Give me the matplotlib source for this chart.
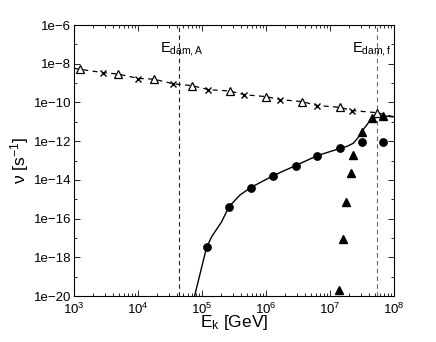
import numpy as np
import matplotlib
matplotlib.use("Agg")
import matplotlib.pyplot as plt
from matplotlib.ticker import LogLocator, FixedLocator, FuncFormatter, NullFormatter

plt.rcParams['font.family'] = ['Liberation Sans', 'DejaVu Sans']
plt.rcParams['mathtext.fontset'] = 'custom'
plt.rcParams['mathtext.rm'] = 'Liberation Sans'
plt.rcParams['mathtext.it'] = 'Liberation Sans:italic'
plt.rcParams['mathtext.default'] = 'rm'

# ---- data ----
open_tri_E = [1.26e3, 4.8e3, 1.78e4, 6.9e4, 2.7e5, 1.0e6, 3.7e6, 1.41e7, 5.4e7]
open_tri_nu = [5.1e-9, 2.95e-9, 1.58e-9, 7.4e-10, 3.9e-10, 2.0e-10, 1.1e-10, 5.6e-11, 2.95e-11]

cross_E = [2.8e3, 1.0e4, 3.55e4, 1.26e5, 4.6e5, 1.66e6, 6.2e6, 2.24e7]
cross_nu = [3.2e-9, 1.62e-9, 8.7e-10, 4.4e-10, 2.4e-10, 1.35e-10, 6.6e-11, 3.6e-11]

dash_E = [1.0e3, 1.26e3, 2.8e3, 4.8e3, 1.0e4, 1.78e4, 3.55e4, 6.9e4, 1.26e5, 2.7e5,
          4.6e5, 1.0e6, 1.66e6, 3.7e6, 6.2e6, 1.41e7, 2.24e7, 5.4e7, 1.0e8]
dash_nu = [5.8e-9, 5.1e-9, 3.5e-9, 2.95e-9, 1.75e-9, 1.58e-9, 9.2e-10, 7.4e-10, 4.6e-10, 3.9e-10,
           2.5e-10, 2.0e-10, 1.4e-10, 1.1e-10, 7.0e-11, 5.6e-11, 3.8e-11, 2.95e-11, 1.8e-11]

circle_E = [1.18e5, 2.64e5, 5.77e5, 1.30e6, 2.91e6, 6.34e6, 1.43e7, 3.13e7, 6.8e7]
circle_nu = [3.3e-18, 4.1e-16, 4.0e-15, 1.66e-14, 5.5e-14, 1.78e-13, 4.2e-13, 9.3e-13, 9.3e-13]

filled_tri_E = [1.40e7, 1.58e7, 1.80e7, 2.10e7, 2.31e7, 3.13e7, 4.49e7, 6.8e7]
filled_tri_nu = [2.1e-20, 9.1e-18, 7.6e-16, 2.2e-14, 1.95e-13, 3.1e-12, 1.5e-11, 2.0e-11]

solid_E = [7.4e4, 1.18e5, 1.42e5, 2.03e5, 2.64e5, 3.93e5, 5.77e5, 1.30e6, 2.91e6,
           6.34e6, 1.43e7, 1.9e7, 2.31e7, 2.7e7, 3.13e7, 4.49e7, 6.8e7, 1.0e8]
solid_nu = [6.3e-21, 3.3e-18, 1.17e-17, 6.9e-17, 4.1e-16, 1.66e-15, 4.0e-15, 1.66e-14, 5.5e-14,
            1.78e-13, 4.2e-13, 5.6e-13, 7.8e-13, 1.4e-12, 3.1e-12, 1.5e-11, 2.0e-11, 1.8e-11]

E_dam_A = 4.4e4
E_dam_f = 5.4e7

xticks = [1e3, 1e4, 1e5, 1e6, 1e7, 1e8]
yticks_labeled = [1e-20, 1e-18, 1e-16, 1e-14, 1e-12, 1e-10, 1e-8, 1e-6]
ytick_labels = ['1e\u221220', '1e\u221218', '1e\u221216', '1e\u221214',
                '1e\u221212', '1e\u221210', '1e\u22128', '1e\u22126']

# ---- figure ----
fig = plt.figure(figsize=(4.36, 3.42), dpi=100)
ax = fig.add_axes([74/436, 46/342, 320/436, 271/342])
ax.set_xscale('log')
ax.set_yscale('log')
ax.set_xlim(1e3, 1e8)
ax.set_ylim(1e-20, 1e-6)

ax.axvline(E_dam_A, color='#222222', lw=0.8, ls=(0, (4, 3)), zorder=1)
ax.axvline(E_dam_f, color='#666666', lw=0.8, ls=(0, (4, 3)), zorder=1)

ax.plot(dash_E, dash_nu, color='black', lw=0.9, ls=(0, (4, 3.5)), zorder=2)
ax.plot(solid_E, solid_nu, color='black', lw=1.0, zorder=2)

ax.plot(open_tri_E, open_tri_nu, ls='none', marker='^', ms=5.5, mfc='white',
        mec='black', mew=0.9, zorder=3)
ax.plot(cross_E, cross_nu, ls='none', marker='x', ms=4.0, mec='black', mew=1.0, zorder=3)
ax.plot(circle_E, circle_nu, ls='none', marker='o', ms=5.3, mfc='black', mec='black', zorder=3)
ax.plot(filled_tri_E, filled_tri_nu, ls='none', marker='^', ms=5.3, mfc='black',
        mec='black', zorder=3)

ax.text(2.2e4, 10**-7.41, r'E$_{\mathrm{dam,A}}$', fontsize=10.5, ha='left', va='baseline')
ax.text(2.18e7, 10**-7.41, r'E$_{\mathrm{dam,f}}$', fontsize=10.5, ha='left', va='baseline')

# ticks
ax.xaxis.set_major_locator(FixedLocator(xticks))
ax.xaxis.set_major_formatter(FuncFormatter(lambda v, p: r'$10^{%d}$' % round(np.log10(v))))
ax.xaxis.set_minor_locator(LogLocator(base=10, subs=np.arange(2, 10), numticks=20))
ax.xaxis.set_minor_formatter(NullFormatter())

ax.yaxis.set_major_locator(FixedLocator(yticks_labeled))
ax.set_yticklabels(ytick_labels)
ax.yaxis.set_minor_locator(FixedLocator([10.0**k for k in range(-19, -6, 2)]))
ax.yaxis.set_minor_formatter(NullFormatter())

ax.tick_params(which='both', direction='in', top=True, right=True, labelsize=9.5, colors='black')
ax.tick_params(which='major', length=4, width=0.6)
ax.tick_params(which='minor', length=2.5, width=0.6)
ax.tick_params(axis='x', which='major', pad=4)
ax.tick_params(axis='y', which='major', pad=2)
for s in ax.spines.values():
    s.set_linewidth(0.8)

ax.set_xlabel(r'E$_\mathrm{k}$ [GeV]', fontsize=12.5, labelpad=-3)
ax.set_ylabel(r'$\nu$ [s$^{-1}$]', fontsize=12.5, labelpad=2)

fig.savefig('out.png', dpi=100)
